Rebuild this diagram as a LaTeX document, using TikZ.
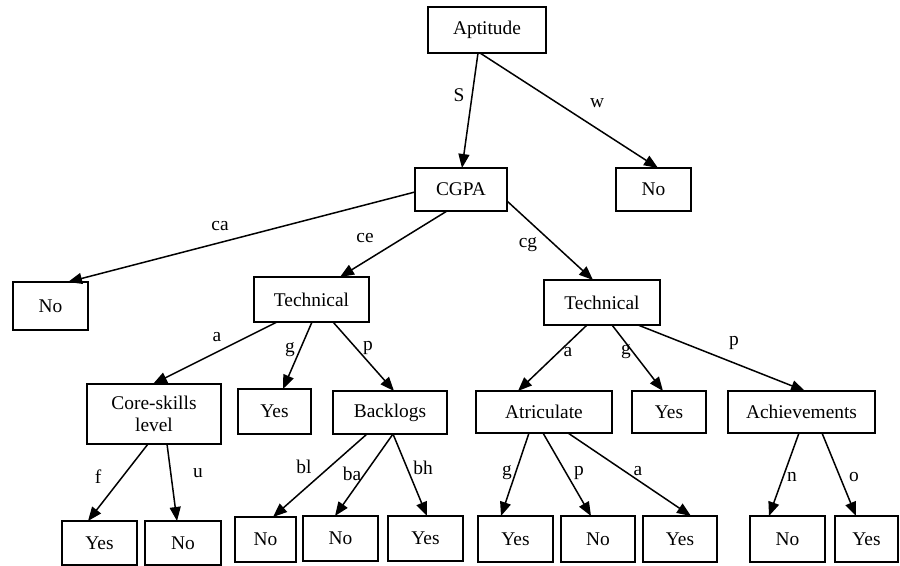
\documentclass[tikz,border=0pt]{standalone}
\usepackage{fontspec}
\setmainfont{Liberation Serif}
\usetikzlibrary{arrows.meta}
\begin{document}
\begin{tikzpicture}[x=0.5pt,y=-0.5pt,
  box/.style={draw, line width=1pt, inner sep=0pt, outer sep=0pt, align=center,
    font=\fontsize{9.7}{11}\selectfont},
  sz/.style 2 args={minimum width=#1*0.5pt, minimum height=#2*0.5pt},
  arr/.style={line width=0.75pt, -{Triangle[length=7pt,width=5.5pt]}},
  lbl/.style={inner sep=0pt, font=\fontsize{9.7}{11}\selectfont}]
\useasboundingbox (0,0) rectangle (900,566);
% nodes
\node[box, sz={118}{46}] (apt) at (487,30) {Aptitude};
\node[box, sz={92}{43}] (cgpa) at (461,189.5) {CGPA};
\node[box, sz={75}{43}] (noA) at (653.5,189.5) {No};
\node[box, sz={75}{48}] (noB) at (50.5,306) {No};
\node[box, sz={115}{45}] (techL) at (311.5,299.5) {Technical};
\node[box, sz={116}{45}] (techR) at (602,302.5) {Technical};
\node[box, sz={134}{60}] (core) at (154,414) {Core-skills\\level};
\node[box, sz={73}{45}] (yesT) at (274.5,411.5) {Yes};
\node[box, sz={114}{43}] (back) at (390,412.5) {Backlogs};
\node[box, sz={136}{42}] (atr) at (544,412) {Atriculate};
\node[box, sz={74}{42}] (yesU) at (669,412) {Yes};
\node[box, sz={147}{42}] (ach) at (801.5,412) {Achievements};
\node[box, sz={75}{44}] (y1) at (99.5,543) {Yes};
\node[box, sz={76}{44}] (n1) at (183,543) {No};
\node[box, sz={61}{45}] (n2) at (265.5,539.5) {No};
\node[box, sz={75}{45}] (n3) at (340.5,538.5) {No};
\node[box, sz={75}{45}] (y2) at (425.5,538.5) {Yes};
\node[box, sz={75}{46}] (y3) at (515.5,539) {Yes};
\node[box, sz={74}{46}] (n4) at (598,539) {No};
\node[box, sz={74}{46}] (y4) at (680,539) {Yes};
\node[box, sz={75}{46}] (n5) at (787.5,539) {No};
\node[box, sz={63}{46}] (y5) at (866.5,539) {Yes};
% edges
\draw[arr] (apt.south -| 478,0) -- (cgpa.north -| 462,0);
\draw[arr] (apt.south -| 480,0) -- (noA.north -| 658,0);
\draw[arr] (cgpa.west |- 0,192) -- (noB.north -| 68,0);
\draw[arr] (cgpa.south -| 447,0) -- (techL.north -| 340,0);
\draw[arr] (cgpa.east |- 0,201) -- (techR.north -| 593,0);
\draw[arr] (techL.south -| 277,0) -- (core.north -| 153,0);
\draw[arr] (techL.south -| 312,0) -- (yesT.north -| 283,0);
\draw[arr] (techL.south -| 333,0) -- (back.north -| 394,0);
\draw[arr] (core.south -| 148,0) -- (y1.north -| 88,0);
\draw[arr] (core.south -| 167,0) -- (n1.north -| 177,0);
\draw[arr] (back.south -| 367,0) -- (n2.north -| 273,0);
\draw[arr] (back.south -| 393,0) -- (n3.north -| 335,0);
\draw[arr] (back.south -| 393,0) -- (y2.north -| 427,0);
\draw[arr] (techR.south -| 587,0) -- (atr.north -| 518,0);
\draw[arr] (techR.south -| 612,0) -- (yesU.north -| 663,0);
\draw[arr] (techR.south -| 638,0) -- (ach.north -| 805,0);
\draw[arr] (atr.south -| 529,0) -- (y3.north -| 501,0);
\draw[arr] (atr.south -| 543,0) -- (n4.north -| 591,0);
\draw[arr] (atr.south -| 568,0) -- (y4.north -| 691,0);
\draw[arr] (ach.south -| 799,0) -- (n5.north -| 769,0);
\draw[arr] (ach.south -| 822,0) -- (y5.north -| 856,0);
% labels
\node[lbl] (lS) at (459,95) {S};
\node[lbl] (lw) at (597,103) {w};
\node[lbl] (lca) at (220,226) {ca};
\node[lbl] (lce) at (365,238) {ce};
\node[lbl] (lcg) at (528,245) {cg};
\node[lbl] (la1) at (217,337) {a};
\node[lbl] (lg1) at (290,350) {g};
\node[lbl] (lp1) at (368,348) {p};
\node[lbl] (la2) at (568,352) {a};
\node[lbl] (lg2) at (626,352) {g};
\node[lbl] (lp2) at (734,343) {p};
\node[lbl] (lf) at (98,477) {f};
\node[lbl] (lu) at (198,473) {u};
\node[lbl] (lbl) at (304,467) {bl};
\node[lbl] (lba) at (352,474) {ba};
\node[lbl] (lbh) at (423,468) {bh};
\node[lbl] (lg3) at (507,473) {g};
\node[lbl] (lp3) at (579,473) {p};
\node[lbl] (la3) at (638,471) {a};
\node[lbl] (ln) at (792,477) {n};
\node[lbl] (lo) at (854,477) {o};
\end{tikzpicture}
\end{document}
